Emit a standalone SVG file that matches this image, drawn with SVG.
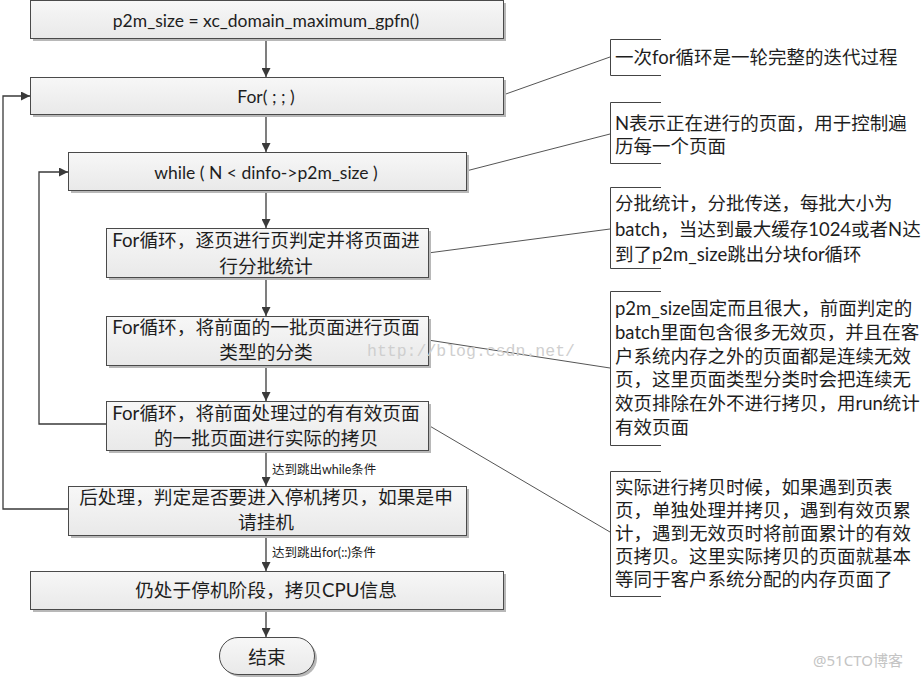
<svg xmlns="http://www.w3.org/2000/svg" width="923" height="678" viewBox="0 0 923 678">
<defs>
<linearGradient id="g" x1="0" y1="0" x2="0" y2="1">
<stop offset="0" stop-color="#f7f7f7"/>
<stop offset="1" stop-color="#e9e9e9"/>
</linearGradient>
<marker id="ah" viewBox="0 0 10 10" refX="10" refY="5" markerWidth="9" markerHeight="9" markerUnits="userSpaceOnUse" orient="auto">
<path d="M0,0 L10,5 L0,10 Z" fill="#3a3a3a"/>
</marker>
</defs>
<style>
.sh{fill:#b8b8b8}
.bx{fill:url(#g);stroke:#4a4a4a;stroke-width:1}
.t{font-family:Lato,"Noto Sans CJK SC",sans-serif;font-size:18.7px;fill:#1e1e1e;text-anchor:middle;dominant-baseline:central}
.lat{font-size:17.5px}
.c{font-family:Lato,"Noto Sans CJK SC",sans-serif;font-size:18.5px;fill:#1e1e1e;dominant-baseline:central}
.el{font-family:Lato,"Noto Sans CJK SC",sans-serif;font-size:12.5px;fill:#222;dominant-baseline:central}
.ar{fill:none;stroke:#3a3a3a;stroke-width:1.3;marker-end:url(#ah)}
.ln{fill:none;stroke:#555;stroke-width:1}
.br{fill:none;stroke:#444;stroke-width:1}
.wm{font-family:"Liberation Mono",monospace;font-size:16.5px;fill:#cfcfcf;dominant-baseline:central}
</style>

<g id="connectors">
<path class="ar" d="M266,38 V77"/>
<path class="ar" d="M266,114 V152"/>
<path class="ar" d="M266,190 V228"/>
<path class="ar" d="M266,277 V316"/>
<path class="ar" d="M266,365 V401"/>
<path class="ar" d="M266,450 V486"/>
<path class="ar" d="M266,535 V571"/>
<path class="ar" d="M266,609 V637"/>
<path class="ar" d="M68,509 H3 V96 H30"/>
<path class="ar" d="M106,424 H39 V172 H68"/>
<text class="el" x="272" y="469">达到跳出while条件</text>
<text class="el" x="272" y="552">达到跳出for(::)条件</text>
<path class="ln" d="M503,95 L610,57"/>
<path class="ln" d="M466,171 L610,134"/>
<path class="ln" d="M428,253 L610,229"/>
<path class="ln" d="M428,340 L610,368"/>
<path class="ln" d="M428,425 L610,532"/>
</g>

<g id="n1">
<rect class="sh" x="33" y="3" width="473" height="38"/>
<rect class="bx" x="30.5" y="0.5" width="473" height="38"/>
<text class="t lat" x="266" y="20">p2m_size = xc_domain_maximum_gpfn()</text>
</g>
<g id="n2">
<rect class="sh" x="33" y="80" width="473" height="37"/>
<rect class="bx" x="30.5" y="77.5" width="473" height="37"/>
<text class="t lat" x="266" y="96">For( ; ; )</text>
</g>
<g id="n3">
<rect class="sh" x="71" y="155" width="398" height="38"/>
<rect class="bx" x="68.5" y="152.5" width="398" height="38"/>
<text class="t lat" x="266" y="172">while ( N &lt; dinfo-&gt;p2m_size )</text>
</g>
<g id="n4">
<rect class="sh" x="109" y="231" width="322" height="49"/>
<rect class="bx" x="106.5" y="228.5" width="322" height="49"/>
<text class="t" x="266" y="240">For循环，逐页进行页判定并将页面进</text>
<text class="t" x="266" y="266">行分批统计</text>
</g>
<g id="n5">
<rect class="sh" x="109" y="319" width="322" height="49"/>
<rect class="bx" x="106.5" y="316.5" width="322" height="49"/>
<text class="t" x="266" y="327">For循环，将前面的一批页面进行页面</text>
<text class="t" x="266" y="352">类型的分类</text>
</g>
<g id="n6">
<rect class="sh" x="109" y="404" width="322" height="49"/>
<rect class="bx" x="106.5" y="401.5" width="322" height="49"/>
<text class="t" x="266" y="413">For循环，将前面处理过的有有效页面</text>
<text class="t" x="266" y="438">的一批页面进行实际的拷贝</text>
</g>
<g id="n7">
<rect class="sh" x="71" y="489" width="398" height="49"/>
<rect class="bx" x="68.5" y="486.5" width="398" height="49"/>
<text class="t" x="266" y="497">后处理，判定是否要进入停机拷贝，如果是申</text>
<text class="t" x="266" y="522">请挂机</text>
</g>
<g id="n8">
<rect class="sh" x="33" y="574" width="473" height="38"/>
<rect class="bx" x="30.5" y="571.5" width="473" height="38"/>
<text class="t" x="266" y="590">仍处于停机阶段，拷贝CPU信息</text>
</g>
<g id="n9">
<rect class="sh" x="222" y="640" width="95" height="37" rx="18.5"/>
<rect class="bx" x="219.5" y="637.5" width="95" height="37" rx="18.5"/>
<text class="t" x="267" y="657">结束</text>
</g>

<g id="note1">
<path class="br" d="M661,39.5 H610.5 V75.5 H661"/>
<text class="c" x="615" y="57">一次for循环是一轮完整的迭代过程</text>
</g>
<g id="note2">
<path class="br" d="M661,102.5 H610.5 V163.5 H661"/>
<text class="c" x="615" y="123">N表示正在进行的页面，用于控制遍</text>
<text class="c" x="615" y="146">历每一个页面</text>
</g>
<g id="note3">
<path class="br" d="M661,187.5 H610.5 V268.5 H661"/>
<text class="c" x="615" y="203">分批统计，分批传送，每批大小为</text>
<text class="c" x="615" y="229">batch，当达到最大缓存1024或者N达</text>
<text class="c" x="615" y="254">到了p2m_size跳出分块for循环</text>
</g>
<g id="note4">
<path class="br" d="M661,291.5 H610.5 V445.5 H661"/>
<text class="c" x="615" y="308">p2m_size固定而且很大，前面判定的</text>
<text class="c" x="615" y="332">batch里面包含很多无效页，并且在客</text>
<text class="c" x="615" y="356">户系统内存之外的页面都是连续无效</text>
<text class="c" x="615" y="379">页，这里页面类型分类时会把连续无</text>
<text class="c" x="615" y="403">效页排除在外不进行拷贝，用run统计</text>
<text class="c" x="615" y="427">有效页面</text>
</g>
<g id="note5">
<path class="br" d="M661,471.5 H610.5 V596.5 H661"/>
<text class="c" x="615" y="487">实际进行拷贝时候，如果遇到页表</text>
<text class="c" x="615" y="510">页，单独处理并拷贝，遇到有效页累</text>
<text class="c" x="615" y="533">计，遇到无效页时将前面累计的有效</text>
<text class="c" x="615" y="556">页拷贝。这里实际拷贝的页面就基本</text>
<text class="c" x="615" y="579">等同于客户系统分配的内存页面了</text>
</g>

<text class="wm" x="367" y="351">http://blog.csdn.net/</text>
<text x="813" y="660" font-family="Noto Sans, Noto Sans CJK SC, sans-serif" font-size="15" fill="#c4c4c4" dominant-baseline="central">@51CTO博客</text>
</svg>
